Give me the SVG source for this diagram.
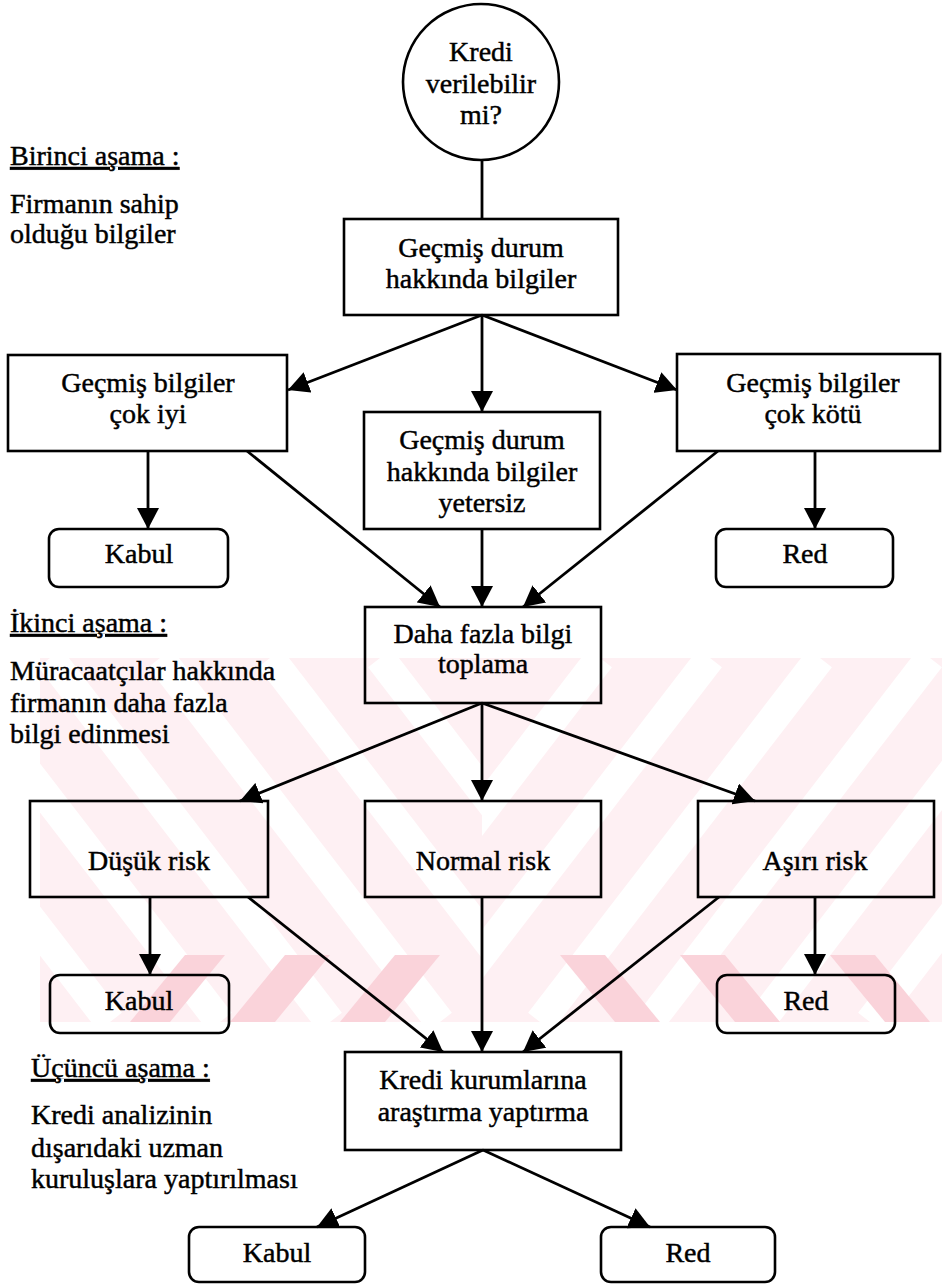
<svg xmlns="http://www.w3.org/2000/svg" width="942" height="1285" viewBox="0 0 942 1285" font-family="'Liberation Serif', serif">
<style>
text{font-family:'Liberation Serif','Times New Roman',serif;font-size:28px;fill:#000;stroke:#000;stroke-width:0.45}
.c{text-anchor:middle}
.u{text-decoration:underline}
.box{fill:none;stroke:#000;stroke-width:2.6}
.rbox{fill:none;stroke:#000;stroke-width:2.6}
.edge{stroke:#000;stroke-width:2.8;fill:none}
.arr{marker-end:url(#ah)}
.wm{fill:#fef0f3}
.ws{stroke:#fff;stroke-width:30}
.wr{fill:#fad3da}
</style>
<defs>
<marker id="ah" markerUnits="userSpaceOnUse" markerWidth="22" markerHeight="22" refX="21" refY="11" orient="auto" viewBox="0 0 22 22">
<path d="M0,0 L21,11 L0,22 z" fill="#000"/>
</marker>
<clipPath id="wmclip"><rect x="40" y="658" width="902" height="364"/></clipPath>
<clipPath id="wmL"><rect x="40" y="658" width="442" height="364"/></clipPath>
<clipPath id="wmR"><rect x="482" y="658" width="460" height="364"/></clipPath>
<clipPath id="wmB"><rect x="120" y="955" width="822" height="67"/></clipPath>
</defs>
<rect width="942" height="1285" fill="#fff"/>
<g id="watermark">
<rect class="wm" x="40" y="658" width="902" height="364" clip-path="url(#wmclip)"/>
<g clip-path="url(#wmL)">
<line class="ws" x1="-170" y1="658" x2="110" y2="1022"/>
<line class="ws" x1="-60" y1="658" x2="220" y2="1022"/>
<line class="ws" x1="50" y1="658" x2="330" y2="1022"/>
<line class="ws" x1="160" y1="658" x2="440" y2="1022"/>
<line class="ws" x1="270" y1="658" x2="550" y2="1022"/>
<line class="ws" x1="380" y1="658" x2="660" y2="1022"/>
</g>
<g clip-path="url(#wmR)">
<line class="ws" x1="600" y1="658" x2="320" y2="1022"/>
<line class="ws" x1="710" y1="658" x2="430" y2="1022"/>
<line class="ws" x1="820" y1="658" x2="540" y2="1022"/>
<line class="ws" x1="930" y1="658" x2="650" y2="1022"/>
<line class="ws" x1="1040" y1="658" x2="760" y2="1022"/>
<line class="ws" x1="1150" y1="658" x2="870" y2="1022"/>
</g>
<g clip-path="url(#wmB)">
<polygon class="wr" points="130,1022 170,1022 225,955 185,955"/>
<polygon class="wr" points="230,1022 275,1022 330,955 285,955"/>
<polygon class="wr" points="340,1022 385,1022 440,955 395,955"/>
<polygon class="wr" points="560,955 605,955 660,1022 615,1022"/>
<polygon class="wr" points="680,955 725,955 780,1022 735,1022"/>
<polygon class="wr" points="830,955 875,955 930,1022 885,1022"/>
</g>
</g>
<g id="connectors">
<line class="edge" x1="482" y1="160" x2="482" y2="219"/>
<line class="edge arr" x1="482" y1="315" x2="288" y2="390"/>
<line class="edge arr" x1="482" y1="315" x2="482" y2="412"/>
<line class="edge arr" x1="482" y1="315" x2="677" y2="390"/>
<line class="edge arr" x1="148" y1="451" x2="148" y2="529"/>
<line class="edge arr" x1="815" y1="451" x2="815" y2="529"/>
<line class="edge arr" x1="247" y1="451" x2="440" y2="607"/>
<line class="edge arr" x1="482" y1="529" x2="482" y2="607"/>
<line class="edge arr" x1="718" y1="451" x2="523" y2="607"/>
<line class="edge arr" x1="482" y1="703" x2="240" y2="801"/>
<line class="edge arr" x1="482" y1="703" x2="482" y2="801"/>
<line class="edge arr" x1="482" y1="703" x2="755" y2="801"/>
<line class="edge arr" x1="150" y1="897" x2="150" y2="975"/>
<line class="edge arr" x1="815" y1="897" x2="815" y2="975"/>
<line class="edge arr" x1="248" y1="897" x2="443" y2="1052"/>
<line class="edge arr" x1="482" y1="897" x2="482" y2="1052"/>
<line class="edge arr" x1="719" y1="897" x2="523" y2="1052"/>
<line class="edge arr" x1="483" y1="1150" x2="317" y2="1227"/>
<line class="edge arr" x1="483" y1="1150" x2="650" y2="1227"/>
</g>
<g id="stage-labels">
<text x="10" y="165" class="u">Birinci aşama :</text>
<text x="10" y="213">Firmanın sahip</text>
<text x="10" y="243">olduğu bilgiler</text>
<text x="10" y="632" class="u">İkinci aşama :</text>
<text x="10" y="680">Müracaatçılar hakkında</text>
<text x="10" y="712">firmanın daha fazla</text>
<text x="10" y="743">bilgi edinmesi</text>
<text x="31" y="1077" class="u">Üçüncü aşama :</text>
<text x="31" y="1124">Kredi analizinin</text>
<text x="31" y="1157">dışarıdaki uzman</text>
<text x="31" y="1188">kuruluşlara yaptırılması</text>
</g>
<g id="start">
<circle cx="481" cy="82" r="78" fill="#fff" stroke="#000" stroke-width="2.6"/>
<text x="481" y="61" class="c">Kredi</text>
<text x="481" y="93" class="c">verilebilir</text>
<text x="481" y="124" class="c">mi?</text>
</g>
<g id="gecmis">
<rect class="box" x="344" y="219" width="274" height="96"/>
<text x="481" y="257" class="c">Geçmiş durum</text>
<text x="481" y="288" class="c">hakkında bilgiler</text>
</g>
<g id="cok-iyi">
<rect class="box" x="8" y="355" width="279" height="96"/>
<text x="148" y="392" class="c">Geçmiş bilgiler</text>
<text x="148" y="423" class="c">çok iyi</text>
</g>
<g id="yetersiz">
<rect class="box" x="364" y="412" width="236" height="117"/>
<text x="482" y="449" class="c">Geçmiş durum</text>
<text x="482" y="481" class="c">hakkında bilgiler</text>
<text x="482" y="512" class="c">yetersiz</text>
</g>
<g id="cok-kotu">
<rect class="box" x="677" y="354" width="263" height="97"/>
<text x="813" y="392" class="c">Geçmiş bilgiler</text>
<text x="813" y="423" class="c">çok kötü</text>
</g>
<g id="kabul1">
<rect class="rbox" x="49" y="529" width="179" height="58" rx="10"/>
<text x="139" y="563" class="c">Kabul</text>
</g>
<g id="red1">
<rect class="rbox" x="716" y="529" width="177" height="58" rx="10"/>
<text x="805" y="563" class="c">Red</text>
</g>
<g id="daha-fazla">
<rect class="box" x="365" y="607" width="236" height="96"/>
<text x="483" y="643" class="c">Daha fazla bilgi</text>
<text x="483" y="673" class="c">toplama</text>
</g>
<g id="dusuk">
<rect class="box" x="30" y="801" width="238" height="96"/>
<text x="149" y="870" class="c">Düşük risk</text>
</g>
<g id="normal">
<rect class="box" x="365" y="801" width="236" height="96"/>
<text x="483" y="870" class="c">Normal risk</text>
</g>
<g id="asiri">
<rect class="box" x="698" y="801" width="236" height="96"/>
<text x="815" y="870" class="c">Aşırı risk</text>
</g>
<g id="kabul2">
<rect class="rbox" x="50" y="975" width="179" height="58" rx="10"/>
<text x="139" y="1010" class="c">Kabul</text>
</g>
<g id="red2">
<rect class="rbox" x="717" y="975" width="178" height="58" rx="10"/>
<text x="806" y="1010" class="c">Red</text>
</g>
<g id="kurumlar">
<rect class="box" x="345" y="1052" width="276" height="98"/>
<text x="483" y="1089" class="c">Kredi kurumlarına</text>
<text x="483" y="1121" class="c">araştırma yaptırma</text>
</g>
<g id="kabul3">
<rect class="rbox" x="189" y="1227" width="176" height="55" rx="10"/>
<text x="277" y="1262" class="c">Kabul</text>
</g>
<g id="red3">
<rect class="rbox" x="601" y="1227" width="174" height="55" rx="10"/>
<text x="688" y="1262" class="c">Red</text>
</g>
</svg>
